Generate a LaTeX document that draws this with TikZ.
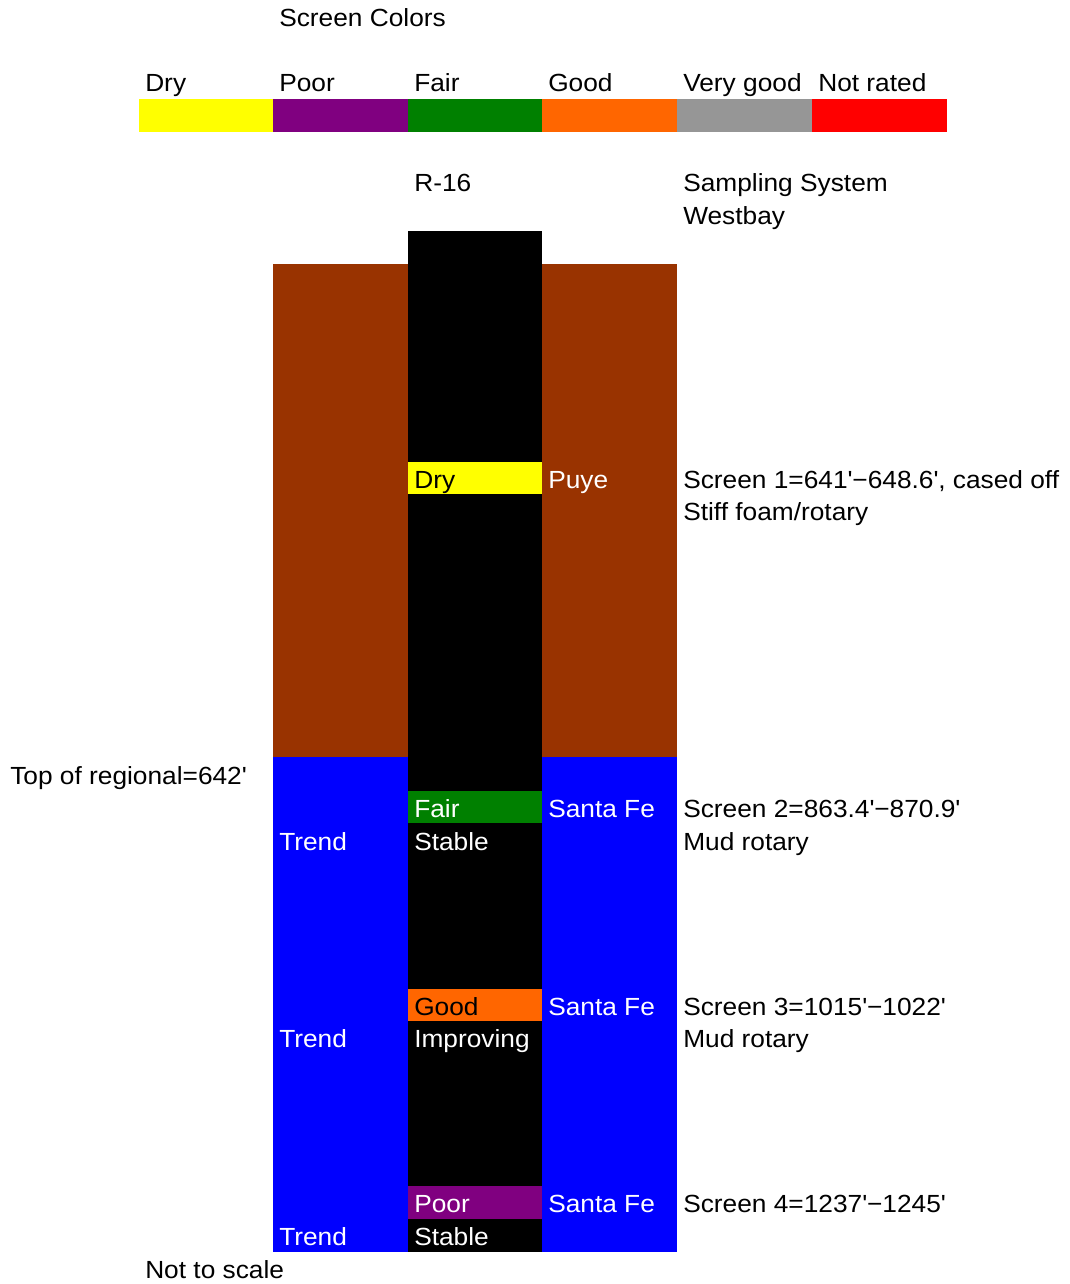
\documentclass[tikz,border=0pt]{standalone}
\usepackage{fontspec}
\setmainfont{Liberation Sans}[FakeStretch=1.06]
\usepackage{tikz}
\usetikzlibrary{positioning}
\definecolor{drycol}{HTML}{FFFF00}
\definecolor{poorcol}{HTML}{800080}
\definecolor{faircol}{HTML}{008000}
\definecolor{goodcol}{HTML}{FF6600}
\definecolor{vgoodcol}{HTML}{969696}
\definecolor{nrcol}{HTML}{FF0000}
\definecolor{puyecol}{HTML}{993300}
\definecolor{sfcol}{HTML}{0000FF}
\newcommand{\ft}{\textquotesingle}
\tikzset{
    lbl/.style={anchor=base west, inner sep=0pt, font=\fontsize{18.6}{22}\selectfont},
    wlbl/.style={lbl, text=white}
}

\begin{document}
\begin{tikzpicture}[x=0.75pt, y=-0.75pt]
            \useasboundingbox (0,0) rectangle (1070,1284);

            % legend
            \node[lbl] (title) at (279,27) {Screen Colors};
            \fill[drycol] (139,99) rectangle (273,132);
            \fill[poorcol] (273,99) rectangle (408,132);
            \fill[faircol] (408,99) rectangle (542,132);
            \fill[goodcol] (542,99) rectangle (677,132);
            \fill[vgoodcol] (677,99) rectangle (812,132);
            \fill[nrcol] (812,99) rectangle (947,132);
            \node[lbl] (legdry) at (145,92) {Dry};
            \node[lbl] (legpoor) at (279,92) {Poor};
            \node[lbl] (legfair) at (414,92) {Fair};
            \node[lbl] (leggood) at (548,92) {Good};
            \node[lbl] (legvgood) at (683,92) {Very good};
            \node[lbl] (legnr) at (818,92) {Not rated};

            % well and formations
            \node[lbl] (well) at (414,191) {R-16};
            \node[lbl] (sampling) at (683,191) {Sampling System};
            \node[lbl] (westbay) at (683,224) {Westbay};
            \fill[puyecol] (273,264) rectangle (408,757);
            \fill[puyecol] (542,264) rectangle (677,757);
            \fill[sfcol] (273,757) rectangle (408,1252);
            \fill[sfcol] (542,757) rectangle (677,1252);
            \fill[black] (408,231) rectangle (542,1252);

            % screens
            \fill[drycol] (408,462) rectangle (542,494);
            \fill[faircol] (408,791) rectangle (542,823);
            \fill[goodcol] (408,989) rectangle (542,1021);
            \fill[poorcol] (408,1186) rectangle (542,1219);

            % screen 1
            \node[lbl] (scr1) at (414,488) {Dry};
            \node[wlbl] (puye) at (548,488) {Puye};
            \node[lbl] (scr1depth) at (683,488) {Screen 1=641\ft\textminus648.6\ft, cased off};
            \node[lbl] (scr1drill) at (683,520) {Stiff foam/rotary};

            \node[lbl] (regional) at (10,784) {Top of regional=642\ft};

            % screen 2
            \node[wlbl] (scr2) at (414,817) {Fair};
            \node[wlbl] (sf2) at (548,817) {Santa Fe};
            \node[lbl] (scr2depth) at (683,817) {Screen 2=863.4\ft\textminus870.9\ft};
            \node[wlbl] (trend2) at (279,850) {Trend};
            \node[wlbl] (stable2) at (414,850) {Stable};
            \node[lbl] (scr2drill) at (683,850) {Mud rotary};

            % screen 3
            \node[lbl] (scr3) at (414,1015) {Good};
            \node[wlbl] (sf3) at (548,1015) {Santa Fe};
            \node[lbl] (scr3depth) at (683,1015) {Screen 3=1015\ft\textminus1022\ft};
            \node[wlbl] (trend3) at (279,1047) {Trend};
            \node[wlbl] (improv3) at (414,1047) {Improving};
            \node[lbl] (scr3drill) at (683,1047) {Mud rotary};

            % screen 4
            \node[wlbl] (scr4) at (414,1212) {Poor};
            \node[wlbl] (sf4) at (548,1212) {Santa Fe};
            \node[lbl] (scr4depth) at (683,1212) {Screen 4=1237\ft\textminus1245\ft};
            \node[wlbl] (trend4) at (279,1245) {Trend};
            \node[wlbl] (stable4) at (414,1245) {Stable};

            \node[lbl] (noscale) at (145,1278) {Not to scale};
        \end{tikzpicture}
\end{document}
